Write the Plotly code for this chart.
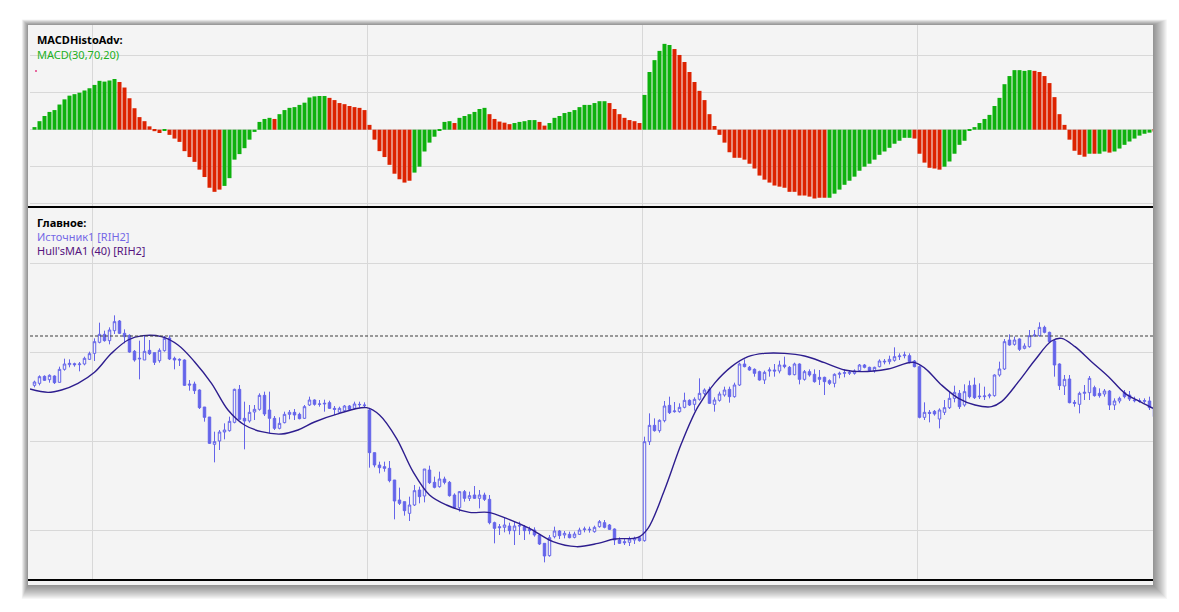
import plotly.graph_objects as go

# ---- top pane: MACD histogram, one value per bar (units = one gridline step)
macd_hist = [
    0.07, 0.23, 0.37, 0.48, 0.53, 0.68, 0.82, 0.92, 0.96, 1.00,
    1.06, 1.12, 1.21, 1.32, 1.30, 1.33, 1.37, 1.29, 1.14, 0.85,
    0.58, 0.34, 0.23, 0.09, -0.04, -0.09, -0.03, -0.14, -0.24, -0.33,
    -0.58, -0.74, -0.87, -1.08, -1.28, -1.57, -1.68, -1.62, -1.52, -1.31,
    -0.81, -0.66, -0.50, -0.27, -0.06, 0.21, 0.29, 0.32, 0.29, 0.42,
    0.53, 0.59, 0.61, 0.67, 0.73, 0.87, 0.90, 0.91, 0.91, 0.86,
    0.80, 0.72, 0.69, 0.64, 0.61, 0.59, 0.53, 0.13, -0.27, -0.58,
    -0.74, -0.95, -1.19, -1.34, -1.43, -1.38, -1.16, -1.00, -0.59, -0.35,
    -0.19, -0.03, 0.21, 0.23, 0.18, 0.32, 0.37, 0.42, 0.48, 0.56,
    0.59, 0.42, 0.29, 0.22, 0.19, 0.15, 0.18, 0.21, 0.23, 0.26,
    0.26, 0.21, 0.11, 0.18, 0.32, 0.37, 0.45, 0.48, 0.53, 0.61,
    0.67, 0.67, 0.72, 0.77, 0.77, 0.72, 0.56, 0.42, 0.32, 0.26,
    0.23, 0.18, 0.94, 1.56, 1.88, 2.13, 2.32, 2.29, 2.18, 2.02,
    1.83, 1.56, 1.29, 1.05, 0.80, 0.42, 0.10, -0.14, -0.35, -0.61,
    -0.76, -0.76, -0.81, -0.92, -1.05, -1.24, -1.35, -1.43, -1.51, -1.54,
    -1.57, -1.68, -1.68, -1.78, -1.78, -1.81, -1.86, -1.84, -1.84, -1.84,
    -1.73, -1.62, -1.49, -1.38, -1.27, -1.11, -1.00, -0.92, -0.81, -0.68,
    -0.59, -0.49, -0.38, -0.30, -0.22, -0.22, -0.24, -0.65, -0.89, -1.03,
    -1.05, -1.08, -1.00, -0.86, -0.65, -0.41, -0.30, -0.03, 0.07, 0.18,
    0.29, 0.40, 0.64, 0.86, 1.23, 1.45, 1.61, 1.61, 1.59, 1.61,
    1.59, 1.56, 1.45, 1.26, 0.88, 0.42, 0.13, -0.27, -0.57, -0.68,
    -0.73, -0.65, -0.65, -0.65, -0.59, -0.62, -0.59, -0.51, -0.41, -0.32,
    -0.24, -0.16, -0.11, -0.08, -0.05,
]
# colour of the bars as runs: (how many bars, G=green / R=red)
macd_color_runs = [
    (17, "G"), (9, "R"), (1, "G"), (11, "R"), (10, "G"), (1, "R"), (10, "G"),
    (17, "R"), (8, "G"), (1, "R"), (6, "G"), (5, "R"), (5, "G"), (2, "R"),
    (12, "G"), (7, "R"), (6, "G"), (31, "R"), (17, "G"), (6, "R"), (18, "G"),
    (11, "R"), (1, "G"), (1, "R"), (2, "G"), (1, "R"), (8, "G"), (1, "R"),
]

# ---- bottom pane: RIH2 candles
opens = [
    153440, 153500, 153710, 153610, 153720, 153530, 153920, 154060, 154090, 154060,
    154080, 154220, 154400, 154730, 154970, 154780, 155080, 155370, 155000, 154940,
    154460, 154230, 154200, 154490, 154420, 154180, 154480, 154860, 154250, 154220,
    154200, 153480, 153480, 153300, 152790, 152490, 151670, 151770, 152040, 152080,
    152330, 153320, 152450, 152370, 152640, 152720, 153140, 152700, 152450, 152150,
    152320, 152570, 152630, 152570, 152450, 152850, 153000,
    152870, 152880, 152920, 152750, 152630, 152680, 152820, 152750, 152870, 152850,
    152700, 151420, 151050, 151000, 150950, 150600, 150000, 149950, 149600, 149850,
    150300, 150120, 150900, 150530, 150400, 150630, 150530, 150150, 149770, 150250,
    150050, 150150, 150050, 150150, 150020, 149320, 149200, 149180, 149220, 149080,
    149220, 149200, 149120, 149100, 148950, 148700, 148330, 148900, 149070, 148950,
    148970, 148880, 148970, 149110, 149100, 149050, 149200,
    149320, 149250, 149130, 148800, 148750, 148730, 148800, 148870, 148780, 151750,
    152240, 152080, 152380, 152840, 152650, 152650, 152780, 152990, 152870, 153020,
    153200, 153320, 152870, 152990, 153150, 153320, 153100, 153450, 154080, 153980,
    153920, 153850, 153600, 153870, 153900, 153870, 154050, 153980, 153760, 154080,
    153620, 153850, 153770, 153680, 153680, 153580, 153500, 153770, 153800, 153800,
    153800, 153880, 154050, 153980, 153880, 154000, 154140,
    154150, 154190, 154300, 154330, 154330, 154170, 154000, 152480, 152630, 152660,
    152430, 152630, 152770, 153050, 153200, 152850, 153430, 153450, 153120, 153100,
    153120, 153130, 153750, 153930, 154800, 154670, 154830, 154550, 154600, 154920,
    154930, 155180, 155030, 154770, 154080, 153420, 153630, 152930, 152870, 153200,
    153220, 153370, 153200, 153180, 153270, 152850, 152970, 153220, 153150, 153000,
    152980, 152960, 152970, 152800,
]
highs = [
    153580, 153740, 153740, 153770, 153740, 154000, 154240, 154220, 154120, 154140,
    154300, 154450, 154850, 155320, 155080, 155180, 155540, 155400, 155120, 154970,
    154500, 154780, 154940, 154800, 154420, 154550, 154920, 154940, 154300, 154250,
    154220, 153600, 153550, 153320, 152790, 152490, 152050, 152100, 152300, 152500,
    153340, 153450, 152950, 152850, 152850, 153200, 153250, 153250, 152520, 152480,
    152650, 152700, 152730, 152620, 152850, 153100, 153020,
    153000, 153010, 152980, 152820, 152800, 152850, 152850, 152950, 152950, 152930,
    152750, 151420, 151150, 151150, 151170, 150600, 150370, 149950, 150100, 150450,
    150400, 150930, 151030, 150700, 150850, 150700, 150570, 150200, 150270, 150300,
    150250, 150420, 150300, 150220, 150150, 149350, 149280, 149480, 149320, 149350,
    149350, 149250, 149200, 149180, 148970, 148700, 148950, 149200, 149100, 149070,
    149050, 149050, 149170, 149200, 149200, 149230, 149400,
    149400, 149280, 149150, 148880, 148850, 148900, 148900, 148920, 151900, 152600,
    152450, 152420, 152970, 153100, 152940, 152900, 153220, 153020, 153080, 153650,
    153350, 153400, 153080, 153250, 153400, 153400, 153520, 154120, 154220, 154020,
    153950, 153880, 153880, 153980, 154080, 154180, 154300, 154020, 154120, 154100,
    153900, 153920, 153920, 153900, 153700, 153620, 153800, 153850, 153920, 153900,
    153920, 154080, 154080, 154000, 154000, 154220, 154230,
    154330, 154580, 154400, 154450, 154400, 154200, 154030, 152930, 152700, 152700,
    152750, 153000, 153250, 153430, 153300, 153470, 153580, 153670, 153500, 153400,
    153200, 153770, 154150, 154830, 154970, 154900, 154850, 154700, 155100, 155100,
    155330, 155230, 155050, 154800, 154100, 153750, 153750, 153000, 153250, 153450,
    153720, 153430, 153350, 153330, 153300, 153050, 153100, 153300, 153270, 153100,
    153050, 153050, 153100, 152850,
]
lows = [
    153380, 153440, 153570, 153520, 153480, 153520, 153880, 153980, 154000, 153860,
    154040, 154200, 154170, 154700, 154750, 154670, 154980, 154980, 154700, 154420,
    154150, 153620, 154200, 154350, 154050, 154120, 154450, 154200, 153920, 154020,
    153420, 153280, 153180, 152730, 152350, 151680, 151130, 151500, 151820, 152050,
    152300, 152400, 151520, 152320, 152400, 152680, 152520, 152000, 152100, 152120,
    152300, 152420, 152400, 152420, 152430, 152820, 152830,
    152800, 152650, 152730, 152550, 152600, 152650, 152690, 152720, 152770, 152780,
    150970, 150980, 150800, 150850, 150530, 149420, 149850, 149530, 149370, 149820,
    149900, 149930, 150480, 150350, 150370, 150470, 150100, 149730, 149650, 149950,
    149970, 150030, 149750, 149970, 149270, 148700, 148950, 149030, 148970, 148650,
    148950, 148800, 148970, 148900, 148650, 148130, 148300, 148850, 148830, 148850,
    148850, 148850, 148950, 149030, 149020, 149020, 149170,
    149150, 149100, 148650, 148680, 148650, 148620, 148680, 148750, 148750, 151650,
    152050, 152020, 152330, 152580, 152620, 152620, 152750, 152820, 152680, 152980,
    153150, 152880, 152650, 152950, 153100, 152920, 153070, 153420, 153980, 153880,
    153700, 153580, 153480, 153700, 153700, 153800, 153950, 153740, 153740, 153470,
    153580, 153700, 153520, 153450, 153150, 153450, 153380, 153650, 153680, 153750,
    153760, 153840, 153950, 153840, 153820, 153980, 154070,
    154070, 154150, 154200, 154250, 154100, 153980, 152450, 152400, 152330, 152530,
    152150, 152550, 152730, 152930, 152730, 152800, 153050, 153030, 153030, 153000,
    153050, 153100, 153700, 153900, 154630, 154630, 154470, 154520, 154570, 154900,
    154900, 155000, 154730, 153700, 153300, 153150, 152900, 152800, 152600, 153000,
    153000, 153100, 153070, 153100, 152700, 152700, 152900, 153050, 152970, 152930,
    152920, 152900, 152700, 152450,
]
closes = [
    153540, 153700, 153590, 153740, 153520, 153920, 154080, 154100, 154060, 154080,
    154250, 154390, 154750, 154970, 154780, 155100, 155350, 155000, 154900, 154440,
    154200, 154250, 154460, 154390, 154130, 154490, 154850, 154230, 154200, 154200,
    153440, 153450, 153280, 152770, 152480, 151700, 151750, 152040, 152100, 152360,
    153320, 152420, 152370, 152630, 152720, 153140, 152580, 152450, 152150, 152300,
    152570, 152630, 152550, 152440, 152800, 153000, 152870,
    152880, 152900, 152750, 152720, 152750, 152820, 152720, 152880, 152860, 152840,
    151420, 151050, 150970, 150950, 150580, 149970, 149900, 149680, 149850, 150280,
    150100, 150930, 150520, 150380, 150630, 150530, 150130, 149770, 150250, 150050,
    150130, 150050, 150150, 150020, 149320, 149150, 149170, 149250, 149080, 149220,
    149230, 149080, 149080, 148950, 148680, 148320, 148870, 149070, 148930, 149000,
    148870, 148980, 149100, 149130, 149120, 149180, 149350,
    149180, 149120, 148800, 148700, 148720, 148830, 148850, 148780, 151750, 152240,
    152080, 152390, 152820, 152620, 152670, 152780, 152990, 152850, 153020, 153200,
    153300, 152900, 153000, 153180, 153300, 153100, 153450, 154080, 154000, 153900,
    153800, 153600, 153830, 153900, 153870, 154050, 154000, 153760, 154080, 153620,
    153850, 153750, 153550, 153620, 153550, 153500, 153770, 153800, 153820, 153830,
    153870, 154050, 153980, 153880, 153980, 154170, 154160,
    154220, 154300, 154320, 154350, 154150, 154000, 152480, 152630, 152600, 152580,
    152700, 152770, 153050, 153230, 152800, 153250, 153100, 153070, 153100, 153120,
    153150, 153750, 153930, 154750, 154650, 154800, 154520, 154620, 154930, 154950,
    155180, 155030, 154750, 154050, 153430, 153620, 152920, 152900, 153200, 153230,
    153650, 153130, 153130, 153270, 152850, 152970, 153050, 153100, 153030, 152980,
    152970, 152980, 152770, 152500,
]

# Hull's MA(40) at these bar positions
hma_x = [0.1, 3.7, 6.4, 9.7, 13, 16.4, 19.7, 22.7, 26.4, 29.7, 33, 36.4, 39.7, 43,
         46.4, 50.4, 53.7, 57, 62, 67.4, 70, 73.4, 76.7, 80, 83.4, 88, 91.7, 95.4,
         100, 104.7, 109.4, 113.7, 117, 121.7, 123.7, 127, 130.4, 133.7, 137, 140.4,
         143.7, 147, 151, 155, 159, 163, 166.4, 171.7, 176.8, 179.1, 182.4, 185.8,
         189.1, 192.4, 194.4, 197.8, 201.1, 204.4, 206.4, 209.1, 212.4, 215.8, 219.1,
         222.4, 224.7]
hma_y = [153330, 153230, 153300, 153500, 153830, 154400, 154800, 154930, 154900,
         154650, 154150, 153500, 152700, 152250, 152050, 151980, 152100, 152340,
         152600, 152770, 152550, 151850, 150850, 150150, 149850, 149630, 149630,
         149450, 149150, 148750, 148600, 148700, 148830, 148880, 149150, 150300,
         151700, 152800, 153500, 154000, 154300, 154400, 154400, 154320, 154120,
         153900, 153850, 153930, 154130, 153950, 153450, 153050, 152850, 152800,
         152950, 153550, 154200, 154770, 154850, 154600, 154150, 153700, 153200,
         152930, 152750]

day_breaks = [12.5, 67.5, 122.5, 177.5]
price_grid = [149100, 151770, 154440, 157110]
macd_grid = [-2, -1, 0, 1, 2]
level_line = 154920

GREEN = "#0db10d"
RED = "#dd2200"
CANDLE = "#6464ea"
HMA = "#2d1d8e"
BG = "#f4f4f4"
GRID = "#d8d8d8"
FONT = "Noto Sans"

idx = list(range(1, len(opens) + 1))
bar_colors = []
for n, c in macd_color_runs:
    bar_colors += [GREEN if c == "G" else RED] * n

fig = go.Figure()
fig.add_trace(go.Bar(x=idx, y=macd_hist, marker_color=bar_colors, marker_line_width=0,
                     width=0.8, xaxis="x2", yaxis="y2", hoverinfo="skip"))
fig.add_trace(go.Candlestick(
    x=idx, open=opens, high=highs, low=lows, close=closes,
    increasing=dict(line=dict(color=CANDLE, width=1), fillcolor=BG),
    decreasing=dict(line=dict(color=CANDLE, width=1), fillcolor=CANDLE),
    whiskerwidth=0, xaxis="x", yaxis="y"))
fig.add_trace(go.Scatter(x=hma_x, y=hma_y, mode="lines", xaxis="x", yaxis="y",
                         line=dict(color=HMA, width=1.4, shape="spline", smoothing=1)))

# pixel helpers for the frame (plot area is 30..1153 x 25..580)
def px(x):
    return (x - 30) / 1123

def py(y):
    return (580 - y) / 555

shapes = []
# window drop shadow, heavier to the right and bottom
for k in range(14, 0, -1):
    shapes.append(dict(type="rect", xref="paper", yref="paper", layer="below",
                       x0=px(28 - k * 0.45), x1=px(1153 + k), y0=py(585 + k), y1=py(25 - k * 0.4),
                       fillcolor="rgba(0,0,0,0.035)", line_width=0))
shapes.append(dict(type="rect", xref="paper", yref="paper", layer="below",
                   x0=px(28), x1=px(1153), y0=py(585), y1=py(25), fillcolor=BG, line_width=0))
shapes.append(dict(type="line", xref="paper", yref="y", x0=0, x1=1, y0=level_line, y1=level_line,
                   line=dict(color="#3c3c3c", width=1, dash="3px,2px")))
shapes.append(dict(type="line", xref="paper", yref="paper", x0=px(28), x1=1, y0=py(207), y1=py(207),
                   line=dict(color="black", width=2)))
shapes.append(dict(type="line", xref="paper", yref="paper", x0=px(28), x1=1, y0=py(580), y1=py(580),
                   line=dict(color="black", width=2)))
shapes.append(dict(type="rect", xref="paper", yref="paper", x0=px(35), x1=px(37), y0=py(72), y1=py(70),
                   fillcolor="#e86aa0", line_width=0))

def label(text, y, color, bold=False):
    return dict(text=f"<b>{text}</b>" if bold else text, xref="paper", yref="paper",
                x=px(35), y=py(y), xanchor="left", yanchor="middle", showarrow=False,
                font=dict(family=FONT, size=11, color=color))

annotations = [
    label("MACDHistoAdv:", 40, "black", True),
    label("MACD(30,70,20)", 54, "#22b022"),
    label("Главное:", 222, "black", True),
    label("Источник1 [RIH2]", 236, "#7468e6"),
    label("Hull'sMA1 (40) [RIH2]", 251, "#55137e"),
]

axis_x = dict(range=[0.1, 224.7], tickvals=day_breaks, showticklabels=False, ticks="",
              showgrid=True, gridcolor=GRID, gridwidth=1, zeroline=False, showline=False)

fig.update_layout(
    width=1179, height=612,
    margin=dict(l=30, r=26, t=25, b=32),
    paper_bgcolor="white", plot_bgcolor=BG,
    showlegend=False, bargap=0.2,
    xaxis=dict(axis_x, domain=[0, 1], anchor="y", rangeslider=dict(visible=False)),
    xaxis2=dict(axis_x, domain=[0, 1], anchor="y2", matches="x"),
    yaxis=dict(domain=[0, py(208)], range=[147600, 158760], tickvals=price_grid,
               showticklabels=False, ticks="", gridcolor=GRID, zeroline=False),
    yaxis2=dict(domain=[py(207), 1], range=[-2.09, 2.83], tickvals=macd_grid,
                showticklabels=False, ticks="", gridcolor=GRID, zeroline=False),
    shapes=shapes, annotations=annotations,
    font=dict(family=FONT),
)

# the page's default 8px body margin would shift the whole chart
fig.write_html("out.html", config={"displayModeBar": False},
               post_script="document.body.style.margin='0px';")
